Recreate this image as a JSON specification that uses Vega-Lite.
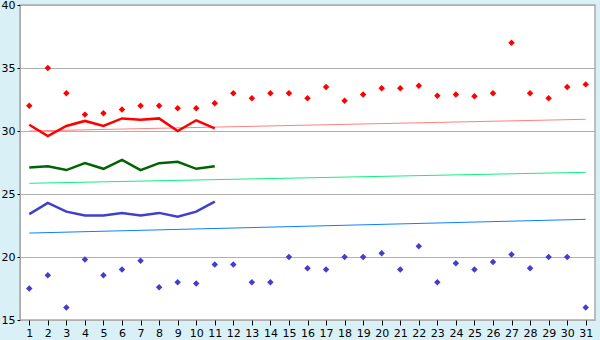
{
  "$schema": "https://vega.github.io/schema/vega-lite/v6.json",
  "width": 575,
  "height": 315,
  "autosize": {"type": "none"},
  "padding": {"left": 20, "top": 5, "right": 5, "bottom": 20},
  "background": "#d9f0f7",
  "config": {
    "view": {"fill": "white", "stroke": "#aaaaaa", "strokeWidth": 1.5},
    "font": "DejaVu Sans"
  },
  "datasets": {
    "daily": [
      {"day": 1, "max": 32.0, "min": 17.5},
      {"day": 2, "max": 35.0, "min": 18.55},
      {"day": 3, "max": 33.0, "min": 16.0},
      {"day": 4, "max": 31.3, "min": 19.8},
      {"day": 5, "max": 31.4, "min": 18.55},
      {"day": 6, "max": 31.7, "min": 19.0},
      {"day": 7, "max": 32.0, "min": 19.7},
      {"day": 8, "max": 32.0, "min": 17.6},
      {"day": 9, "max": 31.8, "min": 18.0},
      {"day": 10, "max": 31.8, "min": 17.9},
      {"day": 11, "max": 32.2, "min": 19.4},
      {"day": 12, "max": 33.0, "min": 19.4},
      {"day": 13, "max": 32.6, "min": 18.0},
      {"day": 14, "max": 33.0, "min": 18.0},
      {"day": 15, "max": 33.0, "min": 20.0},
      {"day": 16, "max": 32.6, "min": 19.1},
      {"day": 17, "max": 33.5, "min": 19.0},
      {"day": 18, "max": 32.4, "min": 20.0},
      {"day": 19, "max": 32.9, "min": 20.0},
      {"day": 20, "max": 33.4, "min": 20.3},
      {"day": 21, "max": 33.4, "min": 19.0},
      {"day": 22, "max": 33.6, "min": 20.85},
      {"day": 23, "max": 32.8, "min": 18.0},
      {"day": 24, "max": 32.9, "min": 19.5},
      {"day": 25, "max": 32.75, "min": 19.0},
      {"day": 26, "max": 33.0, "min": 19.6},
      {"day": 27, "max": 37.0, "min": 20.2},
      {"day": 28, "max": 33.0, "min": 19.1},
      {"day": 29, "max": 32.6, "min": 20.0},
      {"day": 30, "max": 33.5, "min": 20.0},
      {"day": 31, "max": 33.7, "min": 16.0}
    ],
    "avg": [
      {"day": 1, "hi": 30.5, "mid": 27.1, "lo": 23.4},
      {"day": 2, "hi": 29.6, "mid": 27.2, "lo": 24.3},
      {"day": 3, "hi": 30.4, "mid": 26.9, "lo": 23.6},
      {"day": 4, "hi": 30.8, "mid": 27.45, "lo": 23.3},
      {"day": 5, "hi": 30.4, "mid": 27.0, "lo": 23.3},
      {"day": 6, "hi": 31.0, "mid": 27.7, "lo": 23.5},
      {"day": 7, "hi": 30.9, "mid": 26.9, "lo": 23.3},
      {"day": 8, "hi": 31.0, "mid": 27.45, "lo": 23.5},
      {"day": 9, "hi": 30.0, "mid": 27.55, "lo": 23.2},
      {"day": 10, "hi": 30.85, "mid": 27.0, "lo": 23.6},
      {"day": 11, "hi": 30.2, "mid": 27.2, "lo": 24.4}
    ],
    "trend": [
      {"day": 1, "hi": 30.0, "mid": 25.85, "lo": 21.9},
      {"day": 31, "hi": 30.93, "mid": 26.72, "lo": 22.99}
    ]
  },
  "encoding": {
    "x": {
      "field": "day", "type": "quantitative",
      "scale": {"domain": [0.5, 31.5], "nice": false, "zero": false},
      "axis": {
        "title": null, "values": [1,2,3,4,5,6,7,8,9,10,11,12,13,14,15,16,17,18,19,20,21,22,23,24,25,26,27,28,29,30,31],
        "grid": false, "domain": false, "tickColor": "black", "tickSize": 5,
        "labelColor": "black", "labelFontSize": 11, "labelPadding": 2, "format": "d"
      }
    }
  },
  "layer": [
    {
      "data": {"name": "trend"},
      "mark": {"type": "line", "color": "#ff8080", "strokeWidth": 1},
      "encoding": {"y": {"field": "hi", "type": "quantitative",
        "scale": {"domain": [15, 40], "nice": false, "zero": false},
        "axis": {"title": null, "values": [15,20,25,30,35,40], "grid": true, "gridColor": "#b0b0b0", "gridOpacity": 1,
          "domainColor": "#aaaaaa", "tickColor": "black", "tickSize": 3, "labelColor": "black", "labelFontSize": 11, "labelPadding": 2}}}
    },
    {
      "data": {"name": "trend"},
      "mark": {"type": "line", "color": "#10f080", "strokeWidth": 1},
      "encoding": {"y": {"field": "mid", "type": "quantitative"}}
    },
    {
      "data": {"name": "trend"},
      "mark": {"type": "line", "color": "#0a80ff", "strokeWidth": 1},
      "encoding": {"y": {"field": "lo", "type": "quantitative"}}
    },
    {
      "data": {"name": "avg"},
      "mark": {"type": "line", "color": "#ff0000", "strokeWidth": 2.5},
      "encoding": {"y": {"field": "hi", "type": "quantitative"}}
    },
    {
      "data": {"name": "avg"},
      "mark": {"type": "line", "color": "#006400", "strokeWidth": 2.5},
      "encoding": {"y": {"field": "mid", "type": "quantitative"}}
    },
    {
      "data": {"name": "avg"},
      "mark": {"type": "line", "color": "#3f3fcc", "strokeWidth": 2.5},
      "encoding": {"y": {"field": "lo", "type": "quantitative"}}
    },
    {
      "data": {"name": "daily"},
      "mark": {"type": "point", "shape": "diamond", "filled": true, "color": "#ff0000", "size": 42, "opacity": 1},
      "encoding": {"y": {"field": "max", "type": "quantitative"}}
    },
    {
      "data": {"name": "daily"},
      "mark": {"type": "point", "shape": "diamond", "filled": true, "color": "#3f3fcc", "size": 42, "opacity": 1},
      "encoding": {"y": {"field": "min", "type": "quantitative"}}
    }
  ]
}
